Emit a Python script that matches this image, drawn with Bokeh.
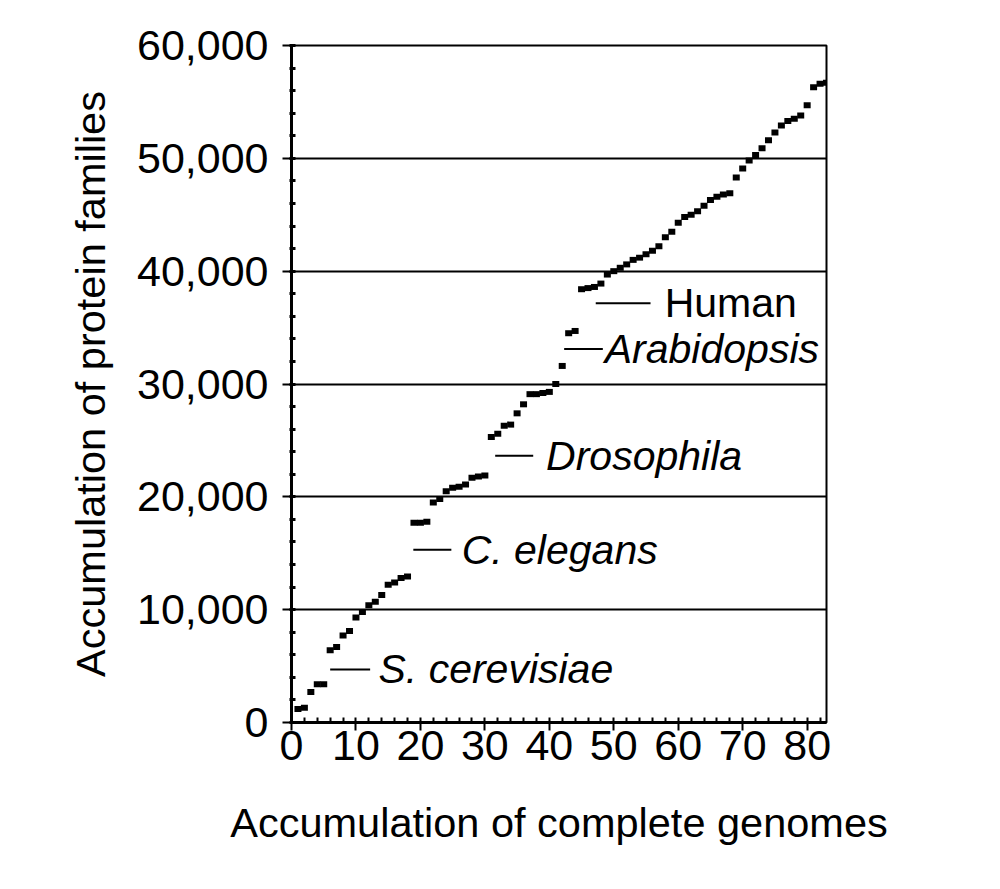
from bokeh.plotting import figure
from bokeh.models import ColumnDataSource, NumeralTickFormatter, FixedTicker, Range1d
from bokeh.core.properties import value
from bokeh.embed import file_html
from bokeh.resources import INLINE

# ---- data ----
genomes = list(range(1, 84))
families = [
    1200, 1300, 2700, 3400, 3400, 6400, 6700, 7700, 8100, 9300,
    9800, 10400, 10700, 11300, 12200, 12400, 12800, 12950, 17700, 17700,
    17800, 19500, 19800, 20500, 20800, 20900, 21100, 21700, 21800, 21900,
    25300, 25600, 26300, 26400, 27400, 28200, 29100, 29100, 29200, 29300,
    30000, 31600, 34500, 34700, 38400, 38500, 38600, 38900, 39700, 40000,
    40300, 40600, 41000, 41200, 41500, 41800, 42200, 43000, 43500, 44300,
    44800, 45000, 45300, 45800, 46300, 46600, 46800, 46900, 48300, 49100,
    49800, 50300, 50900, 51600, 52300, 52900, 53300, 53500, 53800, 54700,
    56300, 56600, 56700,
]

organisms = ["S. cerevisiae", "C. elegans", "Drosophila", "Arabidopsis", "Human"]
organism_styles = ["italic", "italic", "italic", "italic", "normal"]
# annotation anchors (data coordinates)
leader_x0 = [6.0, 18.9, 31.6, 42.3, 47.2]
leader_x1 = [12.2, 24.8, 37.5, 48.3, 55.7]
leader_y = [4700, 15300, 23650, 33100, 37150]
label_x = [13.5, 26.4, 39.5, 48.6, 57.9]

x_ticks = [0, 10, 20, 30, 40, 50, 60, 70, 80]
y_ticks = [0, 10000, 20000, 30000, 40000, 50000, 60000]

FONT = "Liberation Sans"

p = figure(
    width=980, height=870,
    x_range=Range1d(0, 83), y_range=Range1d(0, 60000),
    output_backend="svg", toolbar_location=None,
    min_border_left=291, min_border_right=154,
    min_border_top=45, min_border_bottom=148,
)
p.background_fill_color = "white"
p.border_fill_color = "white"
p.outline_line_color = "black"
p.outline_line_width = 2

p.xgrid.visible = False
p.ygrid.ticker = FixedTicker(ticks=y_ticks)
p.ygrid.grid_line_color = "black"
p.ygrid.grid_line_width = 2
p.ygrid.grid_line_alpha = 1.0

# x axis
xa = p.xaxis[0]
xa.ticker = FixedTicker(ticks=x_ticks, minor_ticks=list(range(0, 84, 2)))
xa.axis_line_width = 3
xa.axis_line_color = "black"
xa.major_tick_line_width = 2
xa.major_tick_in = 0
xa.major_tick_out = 8
xa.minor_tick_line_width = 2
xa.minor_tick_in = 5
xa.minor_tick_out = 0
xa.major_label_text_font = FONT
xa.major_label_text_font_size = "43px"
xa.major_label_text_color = "black"
xa.major_label_standoff = 0
xa.axis_label = "Accumulation of complete genomes"
xa.axis_label_text_font = FONT
xa.axis_label_text_font_size = "41.5px"
xa.axis_label_text_font_style = "normal"
xa.axis_label_text_color = "black"
xa.axis_label_standoff = 36

# y axis
ya = p.yaxis[0]
ya.ticker = FixedTicker(ticks=y_ticks, minor_ticks=list(range(0, 60001, 2000)))
ya.formatter = NumeralTickFormatter(format="0,0")
ya.axis_line_width = 3
ya.axis_line_color = "black"
ya.major_tick_line_width = 2
ya.major_tick_in = 0
ya.major_tick_out = 9
ya.minor_tick_line_width = 3
ya.minor_tick_in = 4
ya.minor_tick_out = 2
ya.major_label_text_font = FONT
ya.major_label_text_font_size = "43px"
ya.major_label_text_color = "black"
ya.major_label_standoff = 14
ya.axis_label = "Accumulation of protein families"
ya.axis_label_text_font = FONT
ya.axis_label_text_font_size = "41.5px"
ya.axis_label_text_font_style = "normal"
ya.axis_label_text_color = "black"
ya.axis_label_standoff = 20

# data points
src = ColumnDataSource(dict(x=genomes, y=families))
p.rect(x="x", y="y", width=7, height=6, width_units="screen", height_units="screen",
       source=src, fill_color="black", line_color=None)

# annotations
ann = ColumnDataSource(dict(
    x0=leader_x0, x1=leader_x1, y=leader_y, tx=label_x,
    text=organisms, style=organism_styles,
))
p.segment(x0="x0", y0="y", x1="x1", y1="y", source=ann, line_color="black", line_width=2)
p.text(x="tx", y="y", text="text", source=ann, text_font=value(FONT),
       text_font_size="41px", text_font_style="style", text_color="black",
       text_baseline="middle", text_align="left")

open("out.html", "w").write(file_html(p, INLINE))
